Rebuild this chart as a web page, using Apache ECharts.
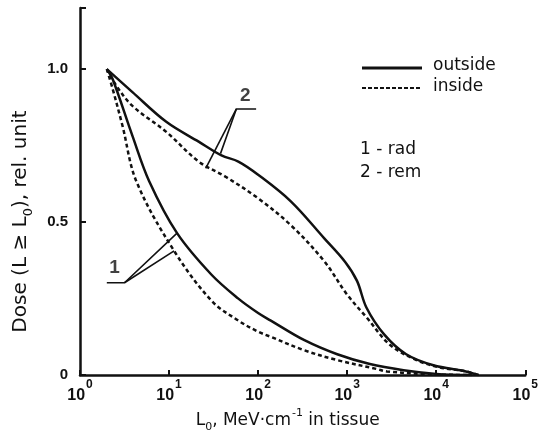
<!DOCTYPE html>
<html>
<head>
<meta charset="utf-8">
<script src="https://cdn.jsdelivr.net/npm/echarts@6/dist/echarts.min.js"></script>
<style>
html,body{margin:0;padding:0;background:#fff;}
#main{width:541px;height:438px;}
</style>
</head>
<body>
<div id="main"></div>
<script>
var yTicks = [0, 0.5, 1.0];

// curve 2 = rem, curve 1 = rad  ([L0, dose])
var remOutside = [[2,1.0],[3.88,0.925],[9.3,0.828],[21.5,0.763],[38.8,0.718],[60,0.698],[100,0.655],[233,0.568],[550,0.448],[950,0.37],[1290,0.308],[1650,0.22],[2600,0.133],[4600,0.068],[9300,0.032],[21500,0.012],[30000,0]];
var remInside = [[2,1.0],[2.57,0.945],[3.88,0.88],[9.3,0.795],[21.5,0.698],[42.8,0.649],[100,0.578],[233,0.49],[550,0.373],[1000,0.263],[1660,0.188],[3000,0.1],[6000,0.049],[10700,0.026],[21500,0.012],[30000,0]];
var radOutside = [[2,1.0],[2.33,0.967],[3.88,0.782],[6,0.633],[12.3,0.464],[30,0.328],[60,0.25],[100,0.203],[139,0.178],[331,0.114],[774,0.068],[1800,0.036],[4300,0.016],[10000,0.004],[25000,0]];
var radInside = [[2,1.0],[2.33,0.935],[3.0,0.815],[4.3,0.633],[11.4,0.406],[30,0.243],[60,0.178],[100,0.142],[139,0.125],[331,0.081],[774,0.049],[2150,0.02],[2800,0.012],[8000,0.003],[25000,0]];

// leader lines for the curve tags
var lead1a = [[2.0,0.302],[3.16,0.302],[12.3,0.464]];
var lead1b = [[3.16,0.302],[11.4,0.406]];
var lead2a = [[95,0.87],[57,0.87],[37.8,0.724]];
var lead2b = [[57,0.87],[25.8,0.676]];
var tags = [[2.45,0.35,'1'],[71.7,0.912,'2']];

var ink = '#111';
var font = 'Liberation Sans';
var wordFont = 'DejaVu Sans';

var chartDom = document.getElementById('main');
var myChart = echarts.init(chartDom);

function curve(name, data, dashed) {
  return {
    name: name,
    type: 'line',
    data: data,
    smooth: 0.35,
    symbol: 'none',
    lineStyle: {color: ink, width: 2.5, type: dashed ? [4, 3] : 'solid'},
    itemStyle: {color: ink},
    z: 3
  };
}
function leader(data) {
  return {
    type: 'line',
    data: data,
    symbol: 'none',
    lineStyle: {color: ink, width: 1.6},
    silent: true,
    z: 4
  };
}
function txt(left, top, s) {
  return {type: 'text', left: left, top: top, style: {text: s, fontFamily: wordFont, fontSize: 17, fill: ink}};
}

var option = {
  animation: false,
  textStyle: {fontFamily: font, color: ink},
  grid: {left: 80, right: 11, top: 8, bottom: 60},
  xAxis: {
    type: 'log',
    logBase: 10,
    min: 1,
    max: 100000,
    name: '{n|L}{sub|0}{n|, MeV·cm}{sup|-1}{n| in tissue}',
    nameLocation: 'middle',
    nameGap: 28,
    nameTextStyle: {
      padding: [0, 30, 0, 0],
      rich: {
        n: {fontFamily: wordFont, fontSize: 17, color: ink, verticalAlign: 'bottom', padding: [0, 0, 4, 0]},
        sub: {fontFamily: wordFont, fontSize: 11, color: ink, verticalAlign: 'bottom'},
        sup: {fontFamily: wordFont, fontSize: 11, color: ink, verticalAlign: 'bottom', padding: [0, 0, 14, 1]}
      }
    },
    axisLine: {lineStyle: {color: ink, width: 2.5}},
    axisTick: {inside: true, length: 5, lineStyle: {color: ink, width: 2}},
    minorTick: {show: false},
    splitLine: {show: false},
    axisLabel: {
      margin: 4,
      showMaxLabel: true,
      formatter: function (v) {
        return '{b|10}{s|' + Math.round(Math.log10(v)) + '}';
      },
      rich: {
        b: {fontFamily: font, fontSize: 16, fontWeight: 'bold', color: ink, verticalAlign: 'bottom'},
        s: {fontFamily: font, fontSize: 12, fontWeight: 'bold', color: ink, verticalAlign: 'bottom', padding: [0, 0, 12, 1]}
      }
    }
  },
  yAxis: {
    type: 'value',
    min: 0,
    max: 1.2,
    interval: 0.5,
    name: '{n|Dose (L ≥ L}{sub|0}{n|), rel. unit}',
    nameLocation: 'middle',
    nameRotate: 90,
    nameGap: 45,
    nameTextStyle: {
      padding: [0, 60, 0, 0],
      rich: {
        n: {fontFamily: wordFont, fontSize: 20, color: ink, verticalAlign: 'bottom', padding: [0, 0, 4, 0]},
        sub: {fontFamily: wordFont, fontSize: 13, color: ink, verticalAlign: 'bottom'}
      }
    },
    axisLine: {show: true, lineStyle: {color: ink, width: 2.5}},
    axisTick: {show: true, inside: true, length: 6, lineStyle: {color: ink, width: 2}},
    splitLine: {show: false},
    axisLabel: {
      margin: 12,
      fontSize: 15,
      fontWeight: 'bold',
      color: ink,
      formatter: function (v) {
        for (var i = 0; i < yTicks.length; i++) {
          if (Math.abs(v - yTicks[i]) < 1e-6) return v === 0 ? '0' : v.toFixed(1);
        }
        return '';
      }
    }
  },
  graphic: [
    // legend samples
    {type: 'line', shape: {x1: 362, y1: 68, x2: 422, y2: 68}, style: {stroke: ink, lineWidth: 3}},
    {type: 'line', shape: {x1: 362, y1: 88, x2: 422, y2: 88}, style: {stroke: ink, lineWidth: 2, lineDash: [4, 2]}},
    txt(433, 57, 'outside'),
    txt(433, 78, 'inside'),
    txt(360, 141, '1 - rad'),
    txt(360, 164, '2 - rem')
  ],
  series: [
    curve('outside', remOutside, false),
    curve('outside', radOutside, false),
    curve('inside', remInside, true),
    curve('inside', radInside, true),
    leader(lead1a),
    leader(lead1b),
    leader(lead2a),
    leader(lead2b),
    {
      type: 'scatter',
      data: tags,
      symbolSize: 1,
      itemStyle: {color: 'rgba(0,0,0,0)'},
      silent: true,
      label: {
        show: true,
        position: 'inside',
        formatter: function (p) { return p.value[2]; },
        fontFamily: font,
        fontSize: 19,
        fontWeight: 'bold',
        color: ink
      }
    }
  ]
};

option && myChart.setOption(option);
</script>
</body>
</html>
